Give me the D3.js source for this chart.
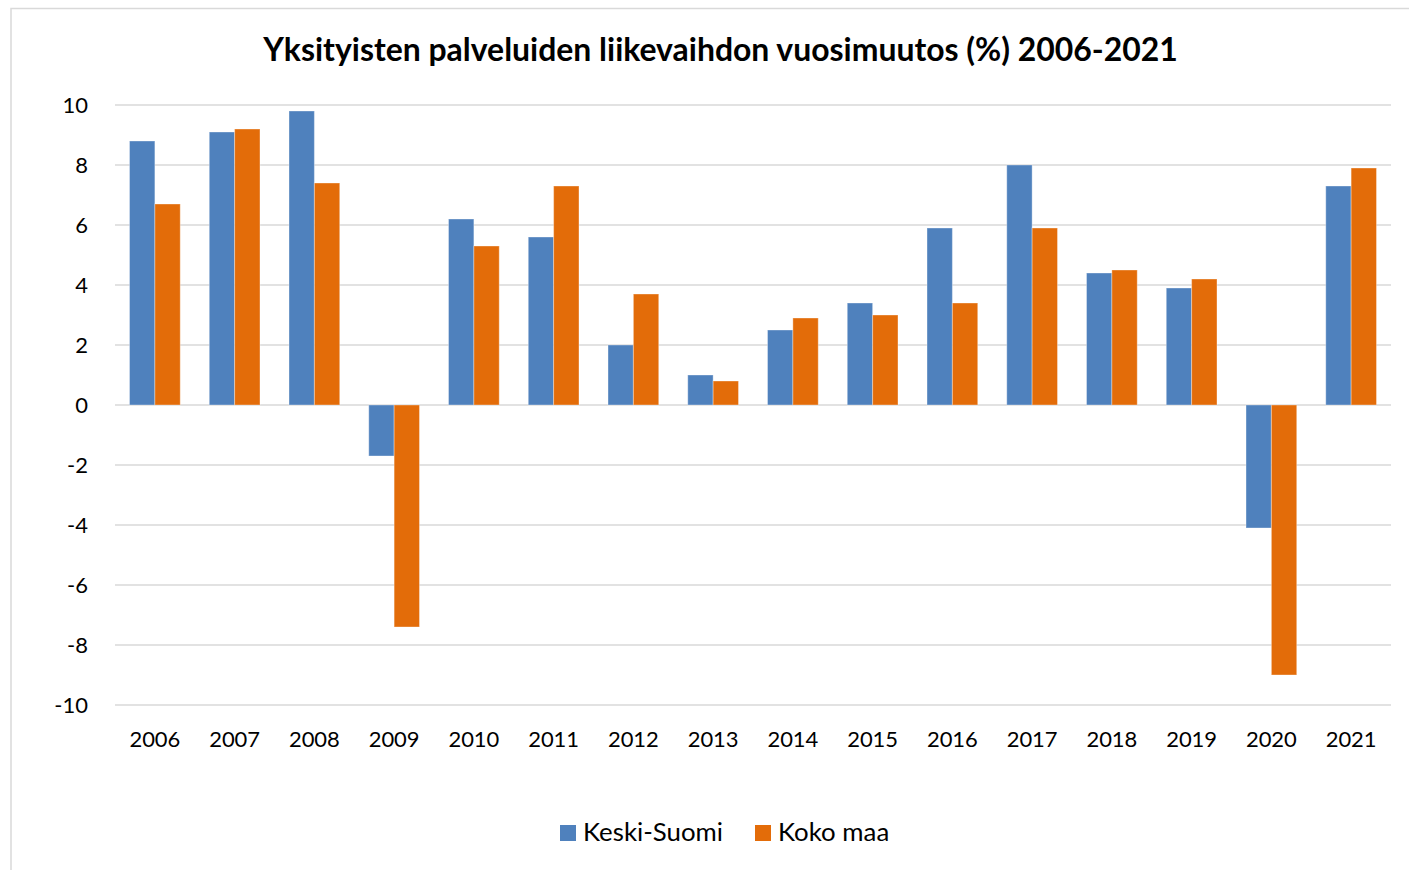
<!DOCTYPE html>
<html>
<head>
<meta charset="utf-8">
<script src="https://cdn.jsdelivr.net/npm/d3@7"></script>
<style>
  html, body { margin: 0; padding: 0; background: #fff; }
  svg { display: block; }
</style>
</head>
<body>
<svg id="chart" width="1409" height="870"></svg>
<script>
const title = "Yksityisten palveluiden liikevaihdon vuosimuutos (%) 2006-2021";
const years = ["2006","2007","2008","2009","2010","2011","2012","2013","2014","2015","2016","2017","2018","2019","2020","2021"];
const seriesNames = ["Keski-Suomi", "Koko maa"];
const keskiSuomi = [8.8, 9.1, 9.8, -1.7, 6.2, 5.6, 2.0, 1.0, 2.5, 3.4, 5.9, 8.0, 4.4, 3.9, -4.1, 7.3];
const kokoMaa   = [6.7, 9.2, 7.4, -7.4, 5.3, 7.3, 3.7, 0.8, 2.9, 3.0, 3.4, 5.9, 4.5, 4.2, -9.0, 7.9];
const yTicks = [-10, -8, -6, -4, -2, 0, 2, 4, 6, 8, 10];
const colors = ["#4F81BD", "#E36C09"];

const svg = d3.select("#chart");
const FONT = "Lato, 'Open Sans', 'Noto Sans', sans-serif";

// measure helper to fit Calibri-like widths
function fitSize(text, targetW, weight) {
  const t = svg.append("text").attr("font-family", FONT).attr("font-weight", weight)
    .attr("font-size", 100).text(text);
  const w = t.node().getComputedTextLength();
  t.remove();
  return 100 * targetW / w;
}

// chart border (cropped outer frame)
svg.append("rect").attr("x", 11).attr("y", 8.5).attr("width", 1500).attr("height", 1000)
  .attr("fill", "#fff").attr("stroke", "#D9D9D9").attr("stroke-width", 1.5);

const margin = { left: 115, right: 1391, top: 105, bottom: 705 };
const x0 = d3.scaleBand().domain(years).range([margin.left, margin.right]).padding(0);
const gapFrac = 0.364;
const x1 = d3.scaleBand().domain(seriesNames)
  .range([x0.bandwidth() * gapFrac / 2, x0.bandwidth() * (1 - gapFrac / 2)]).padding(0);
const y = d3.scaleLinear().domain([-10, 10]).range([margin.bottom, margin.top]);

// gridlines
svg.append("g").selectAll("line").data(yTicks).join("line")
  .attr("x1", margin.left).attr("x2", margin.right)
  .attr("y1", d => y(d)).attr("y2", d => y(d))
  .attr("stroke", "#D9D9D9").attr("stroke-width", 1.5);

// y axis labels via d3 axis
const tickSize = fitSize("2006", 51, 400);
const yAxis = d3.axisLeft(y).tickValues(yTicks).tickSize(0).tickPadding(0)
  .tickFormat(d => d < 0 ? "-" + Math.abs(d) : String(d));
const yg = svg.append("g").attr("transform", `translate(88,0)`).call(yAxis);
yg.select(".domain").remove();
yg.selectAll("text").attr("font-family", FONT).attr("font-size", tickSize)
  .attr("fill", "#000").attr("dy", "0.35em");

// bars
const data = years.map((yr, i) => ({ year: yr, vals: [keskiSuomi[i], kokoMaa[i]] }));
const groups = svg.append("g").selectAll("g").data(data).join("g")
  .attr("transform", d => `translate(${x0(d.year)},0)`);
groups.selectAll("rect").data(d => d.vals.map((v, j) => ({ v, j })))
  .join("rect")
  .attr("x", d => x1(seriesNames[d.j]))
  .attr("width", x1.bandwidth())
  .attr("y", d => y(Math.max(0, d.v)))
  .attr("height", d => Math.abs(y(d.v) - y(0)))
  .attr("fill", d => colors[d.j])
  .attr("stroke", "#ffffff").attr("stroke-opacity", 0.35).attr("stroke-width", 1);

// x axis labels via d3 axis
const xAxis = d3.axisBottom(x0).tickSize(0).tickPadding(0);
const xg = svg.append("g").attr("transform", `translate(0,747)`).call(xAxis);
xg.select(".domain").remove();
xg.selectAll("text").attr("font-family", FONT).attr("font-size", tickSize)
  .attr("fill", "#000").attr("dy", 0).attr("y", 0);

// title
const titleSize = fitSize(title, 915, 700);
svg.append("text").attr("x", 720.5).attr("y", 61).attr("text-anchor", "middle")
  .attr("font-family", FONT).attr("font-weight", 700).attr("font-size", titleSize)
  .attr("fill", "#000").text(title);

// legend
const legSize = fitSize("Keski-Suomi", 140, 400);
const legendPos = [{ sx: 560, tx: 583 }, { sx: 755, tx: 778 }];
const leg = svg.append("g").selectAll("g").data(seriesNames).join("g");
leg.append("rect").attr("x", (d, i) => legendPos[i].sx).attr("y", 825)
  .attr("width", 16).attr("height", 16).attr("fill", (d, i) => colors[i]);
leg.append("text").attr("x", (d, i) => legendPos[i].tx).attr("y", 841)
  .attr("font-family", FONT).attr("font-size", legSize).attr("fill", "#000").text(d => d);
</script>
</body>
</html>
